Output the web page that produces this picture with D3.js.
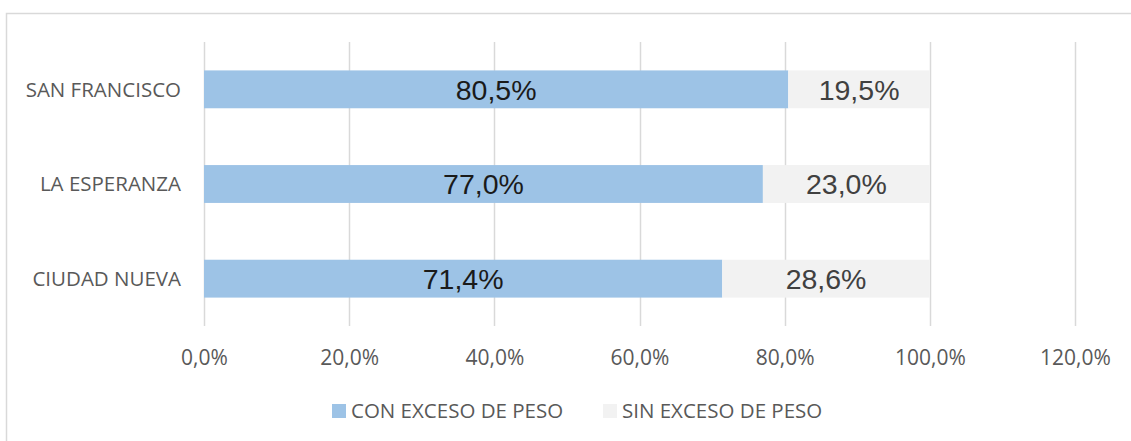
<!DOCTYPE html>
<html>
<head>
<meta charset="utf-8">
<script src="https://cdn.jsdelivr.net/npm/d3@7"></script>
<style>
  body { margin: 0; background: #fff; }
  svg { display: block; }
</style>
</head>
<body>
<div id="chart"></div>
<script>
const categories = ["SAN FRANCISCO", "LA ESPERANZA", "CIUDAD NUEVA"];
const conExceso = [80.5, 77.0, 71.4];
const sinExceso = [19.5, 23.0, 28.6];
const seriesNames = ["CON EXCESO DE PESO", "SIN EXCESO DE PESO"];
const ticks = [0, 20, 40, 60, 80, 100, 120];

const width = 1131, height = 441;
const colors = ["#9dc3e6", "#f2f2f2"];
const labelColors = ["#1a1a1a", "#404040"];
const fmt = (v) => v.toFixed(1).replace(".", ",") + "%";

const svg = d3.select("#chart").append("svg").attr("width", width).attr("height", height);

// outer frame
svg.append("rect")
  .attr("x", 6.5).attr("y", 13.5)
  .attr("width", 1130).attr("height", 440)
  .attr("fill", "none").attr("stroke", "#d9d9d9").attr("stroke-width", 1.5);

const x = d3.scaleLinear().domain([0, 120]).range([204, 1075]);
const y = d3.scaleBand().domain(categories).range([42, 326]).paddingInner(0.6).paddingOuter(0.3);

// gridlines
svg.append("g").selectAll("line").data(ticks).enter().append("line")
  .attr("x1", (d) => Math.round(x(d)) + 0.5)
  .attr("x2", (d) => Math.round(x(d)) + 0.5)
  .attr("y1", 42).attr("y2", 326)
  .attr("stroke", "#d9d9d9").attr("stroke-width", 1.5);

const rows = categories.map((c, i) => ({ cat: c, vals: [conExceso[i], sinExceso[i]] }));
const stack = [];
rows.forEach((r) => {
  let acc = 0;
  r.vals.forEach((v, k) => {
    stack.push({ cat: r.cat, k, x0: acc, x1: acc + v, v });
    acc += v;
  });
});

svg.append("g").selectAll("rect").data(stack).enter().append("rect")
  .attr("x", (d) => x(d.x0))
  .attr("width", (d) => x(d.x1) - x(d.x0))
  .attr("y", (d) => y(d.cat))
  .attr("height", y.bandwidth())
  .attr("fill", (d) => colors[d.k]);

svg.append("g").selectAll("text").data(stack).enter().append("text")
  .attr("x", (d) => (x(d.x0) + x(d.x1)) / 2)
  .attr("y", (d) => y(d.cat) + y.bandwidth() / 2)
  .attr("dy", "0.36em")
  .attr("text-anchor", "middle")
  .attr("font-family", "Liberation Sans, Arial, sans-serif")
  .attr("font-size", 28.5)
  .attr("fill", (d) => labelColors[d.k])
  .text((d) => fmt(d.v));

// category labels
svg.append("g").selectAll("text").data(categories).enter().append("text")
  .attr("x", 181)
  .attr("y", (d) => y(d) + y.bandwidth() / 2)
  .attr("dy", "0.36em")
  .attr("text-anchor", "end")
  .attr("font-family", "Open Sans, sans-serif")
  .attr("font-size", 20.5)
  .attr("fill", "#595959")
  .text((d) => d);

// x tick labels
const xAxis = d3.axisBottom(x).tickValues(ticks).tickSize(0).tickPadding(0).tickFormat(fmt);
const xg = svg.append("g").attr("transform", "translate(0,357)").call(xAxis);
xg.select(".domain").remove();
xg.selectAll("text")
  .attr("dy", "0.36em")
  .attr("font-family", "Open Sans, sans-serif")
  .attr("font-size", 21)
  .attr("fill", "#595959");

// legend
const legendX = [332, 603];
const lg = svg.append("g").selectAll("g").data(seriesNames).enter().append("g")
  .attr("transform", (d, i) => `translate(${legendX[i]},404)`);
lg.append("rect").attr("width", 14).attr("height", 14).attr("fill", (d, i) => colors[i]);
lg.append("text")
  .attr("x", 19).attr("y", 7).attr("dy", "0.36em")
  .attr("font-family", "Open Sans, sans-serif")
  .attr("font-size", 20.5)
  .attr("fill", "#595959")
  .text((d) => d);
</script>
</body>
</html>
